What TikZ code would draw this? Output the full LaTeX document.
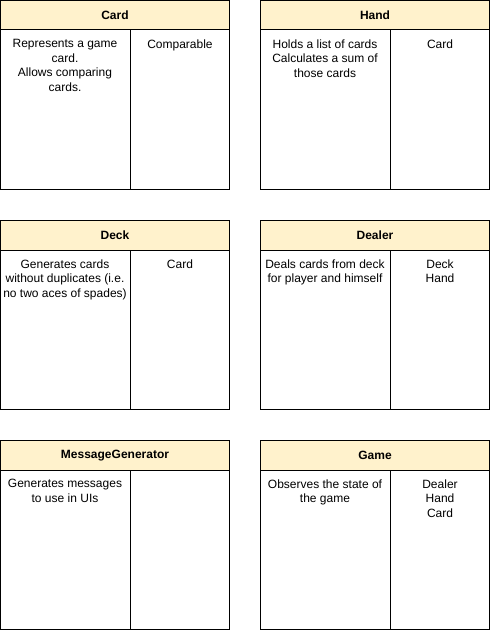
\documentclass[tikz,border=0pt]{standalone}
\usepackage{fontspec}
\setmainfont{Liberation Sans}
\definecolor{headyellow}{HTML}{FFF2CC}

\begin{document}
\begin{tikzpicture}[x=0.75pt,y=-0.75pt,line width=0.75pt,
    titletext/.style={font=\fontsize{9}{10.9}\selectfont\bfseries},
    bodytext/.style={anchor=north,align=center,inner sep=0pt,font=\fontsize{9}{10.9}\selectfont}]
        \useasboundingbox (0,0) rectangle (490,631);

        % Card
        \draw[fill=headyellow] (0.5,0.5) rectangle (229.5,30);
        \draw (0.5,30) rectangle (229.5,189.5) (130,30) -- (130,189.5);
        \node[titletext] (cardtitle) at (115,15.5) {Card};
        \node[bodytext] (cardresp) at (65,39) {Represents a game\\card.\\Allows comparing\\cards.};
        \node[bodytext] (cardcollab) at (180,39) {Comparable};

        % Hand
        \draw[fill=headyellow] (260.5,0.5) rectangle (489.5,30);
        \draw (260.5,30) rectangle (489.5,189.5) (390,30) -- (390,189.5);
        \node[titletext] (handtitle) at (375,15.5) {Hand};
        \node[bodytext] (handresp) at (325,39) {Holds a list of cards\\Calculates a sum of\\those cards};
        \node[bodytext] (handcollab) at (440,39) {Card};

        % Deck
        \draw[fill=headyellow] (0.5,220.5) rectangle (229.5,250);
        \draw (0.5,250) rectangle (229.5,409.5) (130,250) -- (130,409.5);
        \node[titletext] (decktitle) at (115,235.5) {Deck};
        \node[bodytext] (deckresp) at (65,259) {Generates cards\\without duplicates (i.e.\\no two aces of spades)};
        \node[bodytext] (deckcollab) at (180,259) {Card};

        % Dealer
        \draw[fill=headyellow] (260.5,220.5) rectangle (489.5,250);
        \draw (260.5,250) rectangle (489.5,409.5) (390,250) -- (390,409.5);
        \node[titletext] (dealertitle) at (375,235.5) {Dealer};
        \node[bodytext] (dealerresp) at (325,259) {Deals cards from deck\\for player and himself};
        \node[bodytext] (dealercollab) at (440,259) {Deck\\Hand};

        % MessageGenerator
        \draw[fill=headyellow] (0.5,440.5) rectangle (229.5,470);
        \draw (0.5,470) rectangle (229.5,629.5) (130,470) -- (130,629.5);
        \node[titletext] (msgtitle) at (115,455.5) {MessageGenerator};
        \node[bodytext] (msgresp) at (65,479) {Generates messages\\to use in UIs};

        % Game
        \draw[fill=headyellow] (260.5,440.5) rectangle (489.5,470);
        \draw (260.5,470) rectangle (489.5,629.5) (390,470) -- (390,629.5);
        \node[titletext] (gametitle) at (375,455.5) {Game};
        \node[bodytext] (gameresp) at (325,479) {Observes the state of\\the game};
        \node[bodytext] (gamecollab) at (440,479) {Dealer\\Hand\\Card};
\end{tikzpicture}
\end{document}
